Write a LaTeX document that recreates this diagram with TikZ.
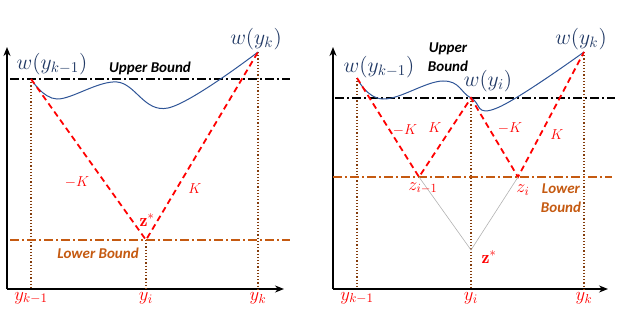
\documentclass[tikz,border=0pt]{standalone}
\usepackage{fontspec}
\setsansfont{Carlito}
\usetikzlibrary{arrows.meta, positioning}

\definecolor{curveblue}{HTML}{2F5597}
\definecolor{wnavy}{HTML}{203864}
\definecolor{lowcol}{HTML}{C55A11}
\definecolor{guidecol}{HTML}{843C0C}

% bigger math labels
\newcommand{\wm}[1]{\scalebox{1.5}{$#1$}}
\newcommand{\ym}[1]{\scalebox{1.3}{$#1$}}
\newcommand{\zm}[1]{\scalebox{1.25}{$#1$}}

\begin{document}
\begin{tikzpicture}[x=1pt, y=-1pt,
        axis/.style={line width=1.6pt, -{Stealth[length=9pt, width=7pt]}},
        upline/.style={line width=1.3pt, dash pattern=on 9pt off 3pt on 2pt off 3pt},
        lowline/.style={line width=1.3pt, lowcol, dash pattern=on 9pt off 3pt on 2pt off 3pt},
        wcurve/.style={line width=1pt, curveblue},
        slope/.style={line width=1.8pt, red, dash pattern=on 6pt off 4pt},
        guide/.style={line width=1.2pt, guidecol, dotted},
        wlab/.style={wnavy, font=\Large},
        ylab/.style={red, font=\Large},
        klab/.style={red, font=\Large},
        blab/.style={font=\sffamily\bfseries\itshape\fontsize{15}{18.5}\selectfont, align=center}
        ]
        \useasboundingbox (0,0) rectangle (640,313);

        % left panel
        \coordinate (lorg) at (7,289);
        \coordinate (la) at (31,79);
        \coordinate (lz) at (146,240);
        \coordinate (lb) at (258,52);
        \draw[axis] (lorg) -- (7,47);
        \draw[axis] (lorg) -- (284,289);

        \draw[guide] (la) -- (la |- lorg);
        \draw[guide] (lz) -- (lz |- lorg);
        \draw[guide] (lb) -- (lb |- lorg);

        \draw[upline] (10,79) -- (290,79);
        \draw[lowline] (10,240) -- (290,240);

        \draw[wcurve] plot[smooth, tension=0.6] coordinates {(la) (57,99) (117,82) (168,108) (lb)};
        \draw[slope] (la) -- (lz) -- (lb);

        \node[wlab] (lwa) at (52,64) {\wm{w(y_{k-1})}};
        \node[wlab] (lwb) at (256,39) {\wm{w(y_k)}};
        \node[blab] (lup) at (150,68) {Upper Bound};
        \node[blab, lowcol] (llow) at (98,253) {Lower Bound};
        \node[ylab] (lzs) at (147,220) {\zm{\mathbf{z}^*}};
        \node[klab] (lkm) at (77,182) {$-K$};
        \node[klab] (lkp) at (195,189) {$K$};
        \node[ylab] (lya) at (31,298) {\ym{y_{k-1}}};
        \node[ylab] (lyi) at (146,298) {\ym{y_i}};
        \node[ylab] (lyb) at (258,298) {\ym{y_k}};

        % right panel
        \coordinate (rorg) at (333,289);
        \coordinate (ra) at (357,78);
        \coordinate (rzm) at (419,177);
        \coordinate (rw) at (471,98);
        \coordinate (rzi) at (518,177);
        \coordinate (rb) at (584,52);
        \coordinate (rzs) at (471,250);
        \draw[axis] (rorg) -- (333,47);
        \draw[axis] (rorg) -- (608,289);

        \draw[guide] (ra) -- (ra |- rorg);
        \draw[guide] (rw) -- (rw |- rorg);
        \draw[guide] (rb) -- (rb |- rorg);

        \draw[upline] (335,98) -- (615,98);
        \draw[lowline] (333,177) -- (612,177);

        \draw[wcurve] plot[smooth, tension=0.7] coordinates {(ra) (383,99) (443,81) (rw) (497,108) (rb)};
        \draw[slope] (ra) -- (rzm) -- (rw) -- (rzi) -- (rb);
        \draw[gray!60, line width=0.6pt] (rzm) -- (rzs) -- (rzi);

        \node[wlab] (rwa) at (379,67) {\wm{w(y_{k-1})}};
        \node[wlab] (rwi) at (488,81) {\wm{w(y_i)}};
        \node[wlab] (rwb) at (581,39) {\wm{w(y_k)}};
        \node[blab] (rup) at (448,57) {Upper\\Bound};
        \node[blab, lowcol] (rlow) at (561,198) {Lower\\Bound};
        \node[klab] (rkm1) at (405,130) {$-K$};
        \node[klab] (rkp1) at (435,128) {$K$};
        \node[klab] (rkm2) at (510,128) {$-K$};
        \node[klab] (rkp2) at (557,135) {$K$};
        \node[ylab] (rzml) at (423,188) {\zm{z_{i-1}}};
        \node[ylab] (rzil) at (523,190) {\zm{z_i}};
        \node[ylab] (rzsl) at (489,257) {\zm{\mathbf{z}^*}};
        \node[ylab] (rya) at (357,298) {\ym{y_{k-1}}};
        \node[ylab] (ryi) at (471,298) {\ym{y_i}};
        \node[ylab] (ryb) at (584,298) {\ym{y_k}};
    \end{tikzpicture}
\end{document}
